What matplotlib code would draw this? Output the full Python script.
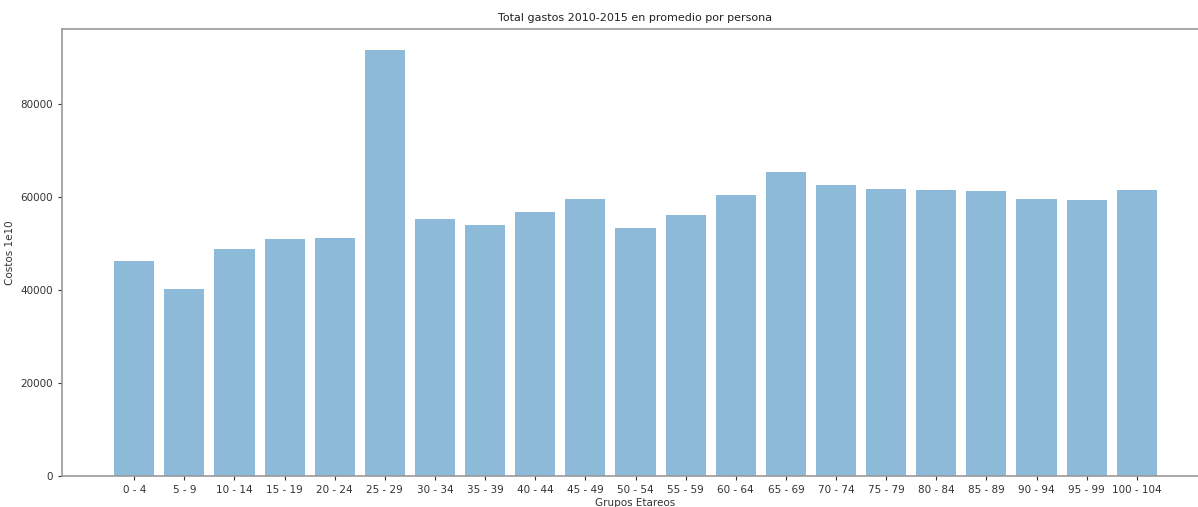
import matplotlib
matplotlib.use("Agg")
import matplotlib.pyplot as plt

grupos = ["0 - 4", "5 - 9", "10 - 14", "15 - 19", "20 - 24", "25 - 29", "30 - 34",
          "35 - 39", "40 - 44", "45 - 49", "50 - 54", "55 - 59", "60 - 64", "65 - 69",
          "70 - 74", "75 - 79", "80 - 84", "85 - 89", "90 - 94", "95 - 99", "100 - 104"]
costos = [46200, 40200, 48800, 51000, 51200, 91600, 55300, 54000, 56800, 59600,
          53300, 56100, 60400, 65400, 62600, 61700, 61500, 61300, 59600, 59400, 61500]

fig = plt.figure(figsize=(11.98, 5.07), dpi=100)
# eje recortado a la derecha, como en la captura original
ax = fig.add_axes([62 / 1198, 31 / 507, 1147 / 1198, 447 / 507])

x = range(len(grupos))
ax.bar(x, costos, align="center", alpha=0.5, color="#1f77b4")
ax.set_xticks(list(x))
ax.set_xticklabels(grupos)

ax.set_title("Total gastos 2010-2015 en promedio por persona", fontsize=8, color="#222")
ax.set_xlabel("Grupos Etareos", fontsize=7.5, color="#333", labelpad=2)
ax.set_ylabel("Costos 1e10", fontsize=7.5, color="#333")
ax.tick_params(labelsize=7.5, colors="#333", length=3)

for s in ax.spines.values():
    s.set_color("#999")
    s.set_linewidth(1.2)
ax.spines["right"].set_visible(False)  # queda fuera del recorte

fig.savefig("out.png", dpi=100)
